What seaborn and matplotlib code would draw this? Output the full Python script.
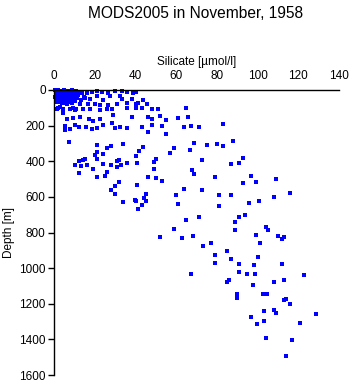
import numpy as np
import pandas as pd
import seaborn as sns
import matplotlib
matplotlib.use("Agg")
import matplotlib.pyplot as plt

# -----------------------------
# DATA
# -----------------------------
# dense shallow cluster
shallow_si = [0.5, 1.2, 2.0, 2.8, 3.5, 4.2, 5.0, 5.8, 6.5, 7.2, 8.0, 8.8, 9.5, 10.3, 11.0,
              0.8, 1.5, 2.3, 3.1, 3.9, 4.6, 5.4, 6.2, 7.0, 7.8, 8.5, 9.3, 10.1,
              0.6, 1.4, 2.2, 3.0, 3.8, 4.5, 5.3, 6.1, 6.9, 7.7, 8.4, 9.2,
              1.0, 2.0, 3.2, 4.0, 5.1, 6.3, 7.4, 8.9, 10.5, 11.5, 12.0, 12.5,
              13.5, 14.5, 1.8, 2.8, 9.5, 11.0]
shallow_depth = [2, 5, 0, 8, 3, 10, 1, 6, 12, 4, 9, 2, 15, 7, 3,
                 18, 25, 20, 30, 22, 28, 35, 19, 26, 32, 21, 38, 24,
                 40, 45, 50, 42, 55, 48, 60, 44, 52, 58, 46, 62,
                 65, 70, 68, 75, 72, 78, 66, 74, 60, 45, 30, 12,
                 55, 40, 100, 95, 100, 105]

# upper layer, silicate < 50
upper_si = [13.8, 16.2, 18.7, 21.1, 23.6, 26.5, 30.0, 33.4, 35.9,
            15.2, 17.7, 21.1, 24.1, 27.5, 32.4, 33.4,
            12.8, 16.7, 20.1, 22.6, 26.5, 30.9, 35.9,
            1.5, 4.4, 7.9, 10.3, 14.2, 17.7, 22.6, 26.0, 28.5, 35.9,
            4.4, 6.4, 9.3, 12.8, 17.2, 19.2, 22.6, 29.0,
            5.4, 7.9, 10.3, 15.7, 18.7, 21.1, 24.1, 28.5, 30.0, 32.4, 35.9, 5.4, 12.3,
            38.8, 40.3, 38.3, 43.7, 40.3, 41.3, 45.7, 40.3, 43.2,
            38.3, 46.2, 43.2, 46.2]
upper_depth = [17, 17, 11, 6, 11, 17, 6, 6, 11,
               45, 51, 34, 56, 34, 34, 51,
               79, 79, 79, 84, 84, 79, 73,
               107, 107, 107, 112, 107, 107, 112, 107, 107, 101,
               129, 163, 157, 152, 163, 174, 163, 140,
               202, 219, 196, 208, 219, 213, 196, 185, 213, 208, 213, 225, 208,
               17, 11, 51, 56, 79, 73, 79, 101, 101,
               152, 152, 208, 236]

# intermediate layer, left branch
mid_si = [33.9, 40.3, 45.2, 43.2, 41.3, 7.4, 21.1, 26.0, 28.0, 33.9, 43.7,
          21.1, 20.1, 24.1, 41.8, 40.3, 21.1, 15.2, 14.2, 31.9, 30.9, 12.3,
          10.3, 13.3, 16.2, 24.1, 28.0, 32.9, 30.9, 35.9, 40.8, 19.2, 12.3,
          26.0, 21.1, 25.1, 46.2, 31.9, 30.0, 40.8, 28.0, 30.0, 45.2, 44.2, 39.8]
mid_depth = [629, 623, 623, 646, 668, 292, 309, 326, 314, 303, 320,
             348, 365, 359, 342, 371, 387, 387, 393, 393, 399, 399,
             421, 427, 421, 415, 421, 421, 432, 410, 410, 444, 466,
             460, 488, 483, 488, 516, 539, 533, 561, 584, 584, 606, 618]

# deep branch, silicate > 45
deep_si = [48.1, 51.1, 64.8, 52.1, 60.9, 65.8, 55.0, 48.1, 48.1, 53.0, 63.9, 67.3, 71.2, 83.0,
           55.0, 68.8, 75.2, 80.1, 83.0, 87.9, 58.9, 66.8, 57.0, 50.1, 49.1, 72.7, 86.9, 90.9,
           92.8, 49.1, 67.8, 68.8, 50.1, 53.0, 79.1, 96.8, 92.8, 99.2, 109.0, 63.9, 72.7, 59.9,
           81.0, 86.9, 115.9, 108.1, 95.8, 100.7, 60.9, 81.0, 64.8, 71.2, 90.9, 93.8, 88.9, 58.9,
           88.9, 104.1, 105.1, 52.1, 62.9, 68.3, 77.1, 99.2, 101.2, 110.0, 113.0, 112.0, 73.2,
           79.1, 85.0, 86.9, 100.2, 79.1, 90.9, 98.2, 112.0, 67.3, 90.9, 94.8, 98.7, 122.8,
           86.0, 85.0, 108.1, 113.0, 97.7, 89.9, 89.9, 102.7, 104.6, 113.0, 114.0, 115.9,
           128.7, 103.2, 108.1, 109.0, 96.8, 99.7, 103.2, 120.8, 104.1, 116.9, 114.0]
deep_depth = [107, 107, 101, 146, 157, 152, 168, 163, 196, 202, 208, 202, 208, 191,
              247, 298, 309, 303, 314, 286, 326, 337, 354, 387, 404, 393, 415, 410,
              382, 444, 449, 472, 494, 511, 488, 483, 522, 516, 500, 556, 561, 589,
              589, 589, 578, 601, 634, 623, 640, 651, 730, 713, 713, 702, 741, 780,
              786, 769, 786, 825, 831, 820, 859, 814, 859, 820, 825, 836, 876,
              926, 904, 949, 938, 971, 977, 982, 977, 1033, 1022, 1033, 1033, 1039,
              1067, 1078, 1078, 1067, 1095, 1145, 1168, 1145, 1145, 1179, 1173, 1201,
              1258, 1241, 1235, 1252, 1274, 1314, 1297, 1308, 1392, 1403, 1493]

df = pd.DataFrame({
    "Silicate": shallow_si + upper_si + mid_si + deep_si,
    "Depth": shallow_depth + upper_depth + mid_depth + deep_depth,
})

x_ticks = [0, 20, 40, 60, 80, 100, 120, 140]
y_ticks = [0, 200, 400, 600, 800, 1000, 1200, 1400, 1600]

# -----------------------------
# PLOT
# -----------------------------
sns.set_style("ticks")
plt.rcParams["font.family"] = ["Liberation Sans", "DejaVu Sans"]
plt.rcParams["text.color"] = "black"
plt.rcParams["axes.labelcolor"] = "black"
plt.rcParams["xtick.color"] = "black"
plt.rcParams["ytick.color"] = "black"

fig = plt.figure(figsize=(3.51, 3.84), dpi=100)
ax = fig.add_axes([54 / 351, 1 - 375 / 384, 285 / 351, 285 / 384])

sns.scatterplot(data=df, x="Silicate", y="Depth", ax=ax, color="#0000ff",
                marker="s", s=6, linewidth=0, clip_on=False)

ax.set_xlim(0, 140)
ax.set_ylim(1600, 0)
ax.set_xticks(x_ticks)
ax.set_yticks(y_ticks)
ax.xaxis.tick_top()
ax.xaxis.set_label_position("top")
ax.set_xlabel("Silicate [µmol/l]", fontsize=8.5, labelpad=3)
ax.set_ylabel("Depth [m]", fontsize=8.5, labelpad=3)
ax.tick_params(axis="both", labelsize=8.5, length=4, width=1, direction="out",
               pad=2, color="black", labelcolor="black")
sns.despine(ax=ax, top=False, right=True, bottom=True, left=False)
for side in ("top", "left"):
    ax.spines[side].set_color("black")
    ax.spines[side].set_linewidth(1)

fig.text(196 / 351, 1 - 13 / 384, "MODS2005 in November, 1958",
         ha="center", va="center", fontsize=11.2, color="black")

fig.savefig("out.png", dpi=100)
